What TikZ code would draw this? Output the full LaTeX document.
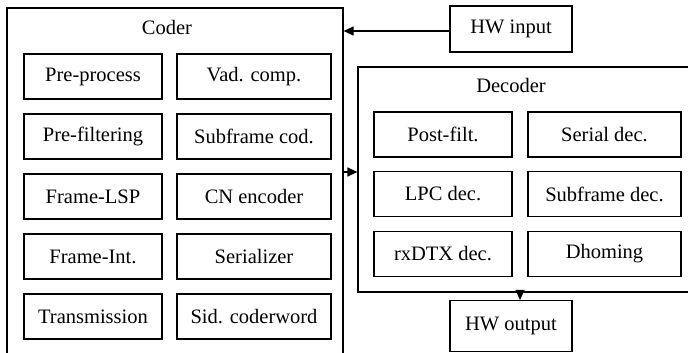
\documentclass[tikz,border=0pt]{standalone}
\usepackage{fontspec}
\setmainfont{Liberation Serif}
\usetikzlibrary{arrows.meta}
\begin{document}
\begin{tikzpicture}[x=1pt,y=-1pt,
  every node/.style={font=\fontsize{20.5}{24}\selectfont},
  outer/.style={draw,line width=1.2pt,inner sep=0pt},
  inner/.style={draw,line width=1.2pt,inner sep=0pt,minimum height=45pt},
  colA/.style={minimum width=138pt},
  colB/.style={minimum width=154pt},
  hw/.style={draw,line width=1.2pt,inner sep=0pt,minimum width=122pt},
  arr/.style={line width=1.2pt,-{Triangle[length=10pt,width=9pt]}}]
\useasboundingbox (0,0) rectangle (688,353);
\clip (0,0) rectangle (688,353);
% outer containers
\node[outer,minimum width=336pt,minimum height=372pt] (coder) at (175,194) {};
\node[outer,minimum width=342pt,minimum height=225pt] (decoder) at (529,179.5) {};
\node (codert) at (167,27) {Coder};
\node (decodert) at (511,85) {Decoder};
% coder blocks
\node[inner,colA] (c11) at (93,76.5) {Pre-process};
\node[inner,colB] (c12) at (254,76.5) {Vad. comp.};
\node[inner,colA] (c21) at (93,136.5) {Pre-filtering};
\node[inner,colB] (c22) at (254,136.5) {Subframe cod.};
\node[inner,colA] (c31) at (93,196.5) {Frame-LSP};
\node[inner,colB] (c32) at (254,196.5) {CN encoder};
\node[inner,colA] (c41) at (93,256.5) {Frame-Int.};
\node[inner,colB] (c42) at (254,256.5) {Serializer};
\node[inner,colA] (c51) at (93,316.5) {Transmission};
\node[inner,colB] (c52) at (254,316.5) {Sid. coderword};
% decoder blocks
\node[inner,colA] (d11) at (443,134.5) {Post-filt.};
\node[inner,minimum width=153pt] (d12) at (604.5,134.5) {Serial dec.};
\node[inner,colA] (d21) at (443,194) {LPC dec.};
\node[inner,minimum width=153pt] (d22) at (604.5,194) {Subframe dec.};
\node[inner,colA] (d31) at (443,254) {rxDTX dec.};
\node[inner,minimum width=153pt] (d32) at (604.5,254) {Dhoming};
% HW boxes
\node[hw,minimum height=46pt] (hwin) at (511,29) {HW input};
\node[hw,minimum height=51pt] (hwout) at (511,326) {HW output};
% connectors
\coordinate (a1) at (343,31);
\draw[arr] (hwin.west |- a1) -- (coder.east |- a1);
\coordinate (a2) at (343,172);
\draw[arr] (coder.east |- a2) -- (decoder.west |- a2);
\coordinate (a3) at (520,292);
\draw[arr] (decoder.south -| a3) -- (hwout.north -| a3);
\end{tikzpicture}
\end{document}
